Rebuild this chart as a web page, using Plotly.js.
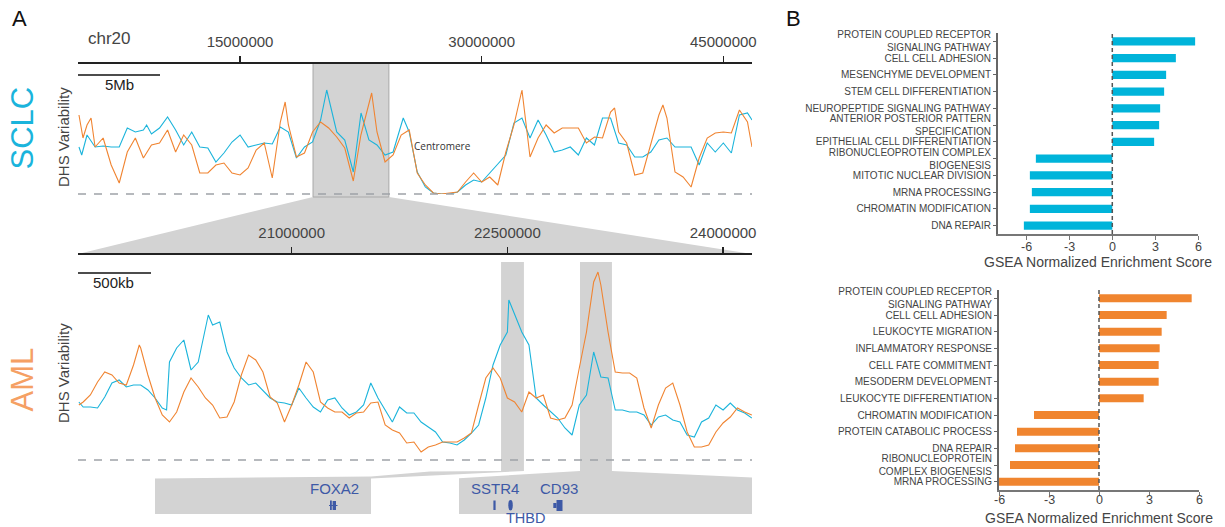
<!DOCTYPE html>
<html><head><meta charset="utf-8">
<script src="https://cdn.plot.ly/plotly-3.0.1.min.js"></script>
<style>html,body{margin:0;padding:0;background:#fff}#chart{width:1225px;height:527px}</style>
</head><body><div id="chart"></div>
<script>
// ---------------- DATA ----------------
// Whole chromosome track (positions in Mb on chr20, DHS variability in arbitrary units)
const sclcChrPos = [5,5.17,5.5,6,6.5,7,7.5,8,8.5,9,9.2,9.5,10,10.5,11,11.5,12,12.5,13,13.5,14,14.5,15,15.5,16,16.5,17,17.5,18,18.5,19,19.5,20,20.38,21,21.5,22.03,22.51,23,23.5,24,24.5,25.13,25.5,26,26.5,27,27.5,28,28.5,29,29.5,30,30.5,31,31.5,32,32.5,33,33.5,34,34.5,35,35.5,36,36.5,37,37.5,38,38.5,39,39.5,40,40.5,41,41.5,42,42.5,43,43.5,44,44.5,45,45.5,46,46.5,46.78];
const sclcChrVal = [47,39,59,47,48,47,47,66,62,64,69,60,66,77,64,49,62,47,46,32,41,52,59,47,49,51,50,67,62,36,47,52,74,104,62,54,22,81,54,49,39,42,76,62,22,7,1,0,0,2,9,14,12,21,29,39,71,76,56,74,59,42,44,47,39,56,49,76,76,51,49,37,37,42,54,56,47,47,47,29,51,42,51,41,79,81,74];
const amlChrPos = [5,5.25,5.5,5.75,6,6.5,7,7.5,8,8.5,9,9.5,10,10.5,11,11.5,12,12.5,13,13.5,14,14.5,15,15.5,16,16.5,17,17.5,17.8,18,18.5,19,19.5,20,20.5,21,21.5,22.03,22.5,23,23.17,23.5,24,24.5,25,25.5,26,26.5,27,27.5,28,28.5,29,29.5,30,30.5,31,31.5,32,32.5,33,33.5,34,34.5,35,35.5,36,36.5,37,37.5,38,38.25,38.5,39,39.5,40,40.5,41,41.25,41.5,42,42.5,43,43.5,44,44.5,45,45.5,46,46.5,46.78];
const amlChrVal = [79,56,69,76,47,56,29,11,42,56,36,49,51,64,42,59,49,21,21,29,31,21,19,26,44,51,16,72,92,69,37,41,62,72,66,57,46,13,59,89,101,62,32,39,59,64,21,9,1,0,1,2,12,21,12,17,9,42,69,104,37,56,69,61,66,66,66,51,57,56,82,86,62,51,19,21,51,79,89,76,22,17,7,36,56,61,62,61,84,72,47];

// Zoomed region track (positions in Mb)
const sclcZoomPos = [19.52,19.55,19.6,19.65,19.7,19.75,19.8,19.85,19.9,19.95,20.0,20.05,20.1,20.13,20.15,20.2,20.25,20.3,20.35,20.4,20.42,20.45,20.5,20.55,20.6,20.65,20.7,20.75,20.8,20.85,20.9,20.95,21.0,21.05,21.1,21.15,21.2,21.25,21.3,21.35,21.4,21.45,21.5,21.55,21.6,21.65,21.7,21.75,21.8,21.85,21.9,21.95,22.0,22.05,22.1,22.15,22.2,22.25,22.3,22.35,22.4,22.45,22.5,22.51,22.55,22.6,22.65,22.7,22.75,22.8,22.85,22.9,22.95,23.0,23.05,23.1,23.15,23.2,23.25,23.3,23.35,23.4,23.45,23.5,23.55,23.6,23.65,23.7,23.75,23.8,23.85,23.9,23.95,24.0,24.05,24.1,24.15,24.2];
const sclcZoomVal = [58,53,53,52,63,77,80,73,75,75,70,62,52,50,98,112,120,90,98,133,145,135,138,108,92,82,75,77,70,62,58,57,55,72,62,53,48,60,62,52,45,48,55,77,62,50,38,53,47,47,38,33,28,18,17,15,20,27,35,62,95,115,128,160,145,128,115,62,55,48,42,32,25,55,65,108,83,82,50,50,48,48,45,35,43,45,40,38,25,23,38,42,55,50,57,50,47,42];
const amlZoomPos = [19.52,19.55,19.6,19.65,19.7,19.75,19.8,19.85,19.9,19.94,19.95,20.0,20.05,20.1,20.15,20.2,20.25,20.3,20.35,20.4,20.45,20.5,20.55,20.6,20.65,20.7,20.75,20.8,20.85,20.9,20.95,21.0,21.05,21.1,21.15,21.2,21.25,21.3,21.35,21.4,21.45,21.5,21.55,21.6,21.65,21.7,21.75,21.8,21.85,21.9,21.95,22.0,22.05,22.1,22.15,22.2,22.25,22.3,22.35,22.4,22.45,22.5,22.55,22.6,22.65,22.7,22.75,22.8,22.85,22.9,22.95,23.0,23.05,23.1,23.13,23.15,23.2,23.25,23.3,23.35,23.4,23.45,23.5,23.55,23.6,23.65,23.7,23.75,23.8,23.85,23.9,23.95,24.0,24.05,24.1,24.15,24.2];
const amlZoomVal = [55,58,65,78,88,85,77,75,95,115,112,85,62,45,38,48,68,82,73,62,55,42,43,58,85,105,100,88,63,57,38,55,75,98,88,58,52,48,48,42,47,48,57,58,35,30,27,17,18,8,13,15,18,18,18,22,27,55,82,92,82,62,58,48,68,62,65,42,40,42,55,92,128,178,188,175,128,88,87,87,82,52,32,55,72,77,55,28,13,13,15,28,37,43,52,48,45];

// Genome axis ticks (Mb) and labels
const chrTickPos = [15,30,45];
const chrTickText = ["15000000","30000000","45000000"];
const zoomTickPos = [21,22.5,24];
const zoomTickText = ["21000000","22500000","24000000"];

// Highlighted regions (Mb)
const chrHighlight = [19.53,24.24];
const foxa2Region = [22.456,22.615];
const cd93Region = [23.005,23.227];

// GSEA bars
const sclcTerms = ["PROTEIN COUPLED RECEPTOR<br>SIGNALING PATHWAY","CELL CELL ADHESION","MESENCHYME DEVELOPMENT","STEM CELL DIFFERENTIATION","NEUROPEPTIDE SIGNALING PATHWAY","ANTERIOR POSTERIOR PATTERN<br>SPECIFICATION","EPITHELIAL CELL DIFFERENTIATION","RIBONUCLEOPROTEIN COMPLEX<br>BIOGENESIS","MITOTIC NUCLEAR DIVISION","MRNA PROCESSING","CHROMATIN MODIFICATION","DNA REPAIR"];
const sclcNES = [5.8,4.45,3.77,3.63,3.35,3.28,2.93,-5.35,-5.77,-5.63,-5.77,-6.19];
const amlTerms = ["PROTEIN COUPLED RECEPTOR<br>SIGNALING PATHWAY","CELL CELL ADHESION","LEUKOCYTE MIGRATION","INFLAMMATORY RESPONSE","CELL FATE COMMITMENT","MESODERM DEVELOPMENT","LEUKOCYTE DIFFERENTIATION","CHROMATIN MODIFICATION","PROTEIN CATABOLIC PROCESS","DNA REPAIR","RIBONUCLEOPROTEIN<br>COMPLEX BIOGENESIS","MRNA PROCESSING"];
const amlNES = [5.56,4.06,3.76,3.64,3.58,3.58,2.68,-3.9,-4.92,-5.04,-5.34,-6.0];
const nesTicks = [-6,-3,0,3,6];
const nesTickText = ["-6","-3","0","3","6"];

// ---------------- STYLE / LAYOUT ----------------
const W = 1225, H = 527;
const CYAN = '#1bb4db', ORANGE = '#f08431', GENE = '#3d59a6', GREY = '#d3d3d3';
const FONT = 'Liberation Sans, Arial, sans-serif';
const px = x => x / W, py = y => 1 - y / H;
function poly(pts){ return 'M ' + pts.map(p => px(p[0]).toFixed(5) + ',' + py(p[1]).toFixed(5)).join(' L ') + ' Z'; }

const traces = [
  {x: sclcChrPos, y: sclcChrVal, xaxis:'x', yaxis:'y', mode:'lines', line:{color:CYAN, width:1.1}, hoverinfo:'skip'},
  {x: amlChrPos, y: amlChrVal, xaxis:'x', yaxis:'y', mode:'lines', line:{color:ORANGE, width:1.1}, hoverinfo:'skip'},
  {x: sclcZoomPos, y: sclcZoomVal, xaxis:'x2', yaxis:'y2', mode:'lines', line:{color:CYAN, width:1.1}, hoverinfo:'skip'},
  {x: amlZoomPos, y: amlZoomVal, xaxis:'x2', yaxis:'y2', mode:'lines', line:{color:ORANGE, width:1.1}, hoverinfo:'skip'},
  {type:'bar', orientation:'h', x: sclcNES, y: sclcTerms, xaxis:'x3', yaxis:'y3', marker:{color:'#00b4da'}, hoverinfo:'skip'},
  {type:'bar', orientation:'h', x: amlNES, y: amlTerms, xaxis:'x4', yaxis:'y4', marker:{color:'#f0852f'}, hoverinfo:'skip'}
];

const genomeAxis = {
  anchor:'free', side:'top', showline:true, linecolor:'#222', linewidth:2,
  ticks:'outside', ticklen:6, tickwidth:1.2, tickcolor:'#222',
  tickfont:{size:15, color:'#444', family:FONT}, ticklabelstandoff:3,
  showgrid:false, zeroline:false, fixedrange:true
};
const nesX = {
  tickvals: nesTicks, showticklabels:false, showline:true, linecolor:'#777', linewidth:1.5,
  ticks:'outside', ticklen:4, tickcolor:'#777',
  showgrid:false, zeroline:false, fixedrange:true
};
const nesY = {
  type:'category', autorange:'reversed', showline:true, linecolor:'#666', linewidth:2,
  ticks:'outside', ticklen:3, tickcolor:'#666', tickfont:{size:10, color:'#444', family:FONT},
  showgrid:false, zeroline:false, fixedrange:true, automargin:false
};

const shapes = [
  {type:'path', xref:'paper', yref:'paper', path: poly([[313,197],[389,197],[752,254],[78,254]]), fillcolor:GREY, line:{width:0}, layer:'below'},
  {type:'rect', xref:'x', yref:'paper', x0:chrHighlight[0], x1:chrHighlight[1], y0:py(197), y1:py(63), fillcolor:GREY, line:{color:'#a9a9a9', width:1}, layer:'below'},
  {type:'rect', xref:'x2', yref:'paper', x0:foxa2Region[0], x1:foxa2Region[1], y0:py(471), y1:py(262), fillcolor:GREY, line:{width:0}, layer:'below'},
  {type:'rect', xref:'x2', yref:'paper', x0:cd93Region[0], x1:cd93Region[1], y0:py(471), y1:py(262), fillcolor:GREY, line:{width:0}, layer:'below'},
  {type:'path', xref:'paper', yref:'paper', path: poly([[155,478.5],[371,476.5],[430,471.5],[501,471],[524,471],[371,478.5],[371,514],[155,514]]), fillcolor:GREY, line:{width:0}, layer:'below'},
  {type:'path', xref:'paper', yref:'paper', path: poly([[459,478.3],[580,471],[612,471],[752,477.5],[752,514],[459,514]]), fillcolor:GREY, line:{width:0}, layer:'below'},
  {type:'line', xref:'paper', yref:'paper', x0:px(78), x1:px(752), y0:py(194), y1:py(194), line:{color:'#9ea3a8', width:1.6, dash:'8px,8px'}},
  {type:'line', xref:'paper', yref:'paper', x0:px(78), x1:px(752), y0:py(460), y1:py(460), line:{color:'#9ea3a8', width:1.6, dash:'8px,8px'}},
  {type:'line', xref:'paper', yref:'paper', x0:px(78), x1:px(160), y0:py(75), y1:py(75), line:{color:'#111', width:1.6}},
  {type:'line', xref:'paper', yref:'paper', x0:px(78), x1:px(151), y0:py(273), y1:py(273), line:{color:'#111', width:1.6}},
  {type:'rect', xref:'paper', yref:'paper', x0:px(330), x1:px(331.8), y0:py(510), y1:py(500.5), fillcolor:GENE, line:{width:0}},
  {type:'rect', xref:'paper', yref:'paper', x0:px(332.6), x1:px(336), y0:py(510), y1:py(501), fillcolor:GENE, line:{width:0}},
  {type:'line', xref:'paper', yref:'paper', x0:px(329), x1:px(337.5), y0:py(505.5), y1:py(505.5), line:{color:GENE, width:1}},
  {type:'rect', xref:'paper', yref:'paper', x0:px(493.4), x1:px(495.6), y0:py(510), y1:py(500.5), fillcolor:GENE, line:{width:0}},
  {type:'circle', xref:'paper', yref:'paper', x0:px(508.3), x1:px(512.8), y0:py(510.5), y1:py(500), fillcolor:GENE, line:{width:0}},
  {type:'rect', xref:'paper', yref:'paper', x0:px(553.3), x1:px(556.5), y0:py(508), y1:py(503), fillcolor:GENE, line:{width:0}},
  {type:'rect', xref:'paper', yref:'paper', x0:px(556.5), x1:px(562.5), y0:py(511), y1:py(500), fillcolor:GENE, line:{width:0}},
  {type:'line', xref:'x3', yref:'paper', x0:0, x1:0, y0:py(234), y1:py(33), line:{color:'#555', width:1.5, dash:'4px,3px'}},
  {type:'line', xref:'x4', yref:'paper', x0:0, x1:0, y0:py(490), y1:py(290), line:{color:'#555', width:1.5, dash:'4px,3px'}}
];

function ann(text, x, y, size, color, extra){
  return Object.assign({text:text, xref:'paper', yref:'paper', x:px(x), y:py(y), xanchor:'center', yanchor:'middle', showarrow:false, borderpad:0, font:{size:size, color:color, family:FONT}}, extra||{});
}
const annotations = [
  ann('A', 19, 18, 22, '#111'),
  ann('B', 793, 18, 22, '#111'),
  ann('chr20', 109, 38, 17, '#444'),
  ann('5Mb', 119, 85, 15, '#222'),
  ann('500kb', 113, 282, 15, '#222'),
  ann('SCLC', 21.5, 128, 31, '#1ab4dc', {textangle:-90}),
  ann('AML', 21.5, 380, 31, '#f5a064', {textangle:-90}),
  ann('DHS Variability', 63, 137, 15, '#444', {textangle:-90}),
  ann('DHS Variability', 63, 373, 15, '#444', {textangle:-90}),
  Object.assign(ann('Centromere', 442, 146, 10, '#333'), {font:{size:10, color:'#333', family:'Open Sans, sans-serif'}}),
  ann('FOXA2', 334, 488, 15, GENE),
  ann('SSTR4', 495, 488, 15, GENE),
  ann('CD93', 558.5, 488, 15, GENE),
  ann('THBD', 525, 518, 14.5, GENE),
  ann('GSEA Normalized Enrichment Score', 1098, 261.5, 14, '#444'),
  ann('GSEA Normalized Enrichment Score', 1099, 518, 14, '#444')
];
// NES tick labels drawn as annotations at the axis' own tick values
nesTicks.forEach((v, i) => {
  annotations.push({text:nesTickText[i], xref:'x3', yref:'paper', x:v, y:py(246.5), xanchor:'center', yanchor:'middle', showarrow:false, borderpad:0, font:{size:12.5, color:'#444', family:FONT}});
  annotations.push({text:nesTickText[i], xref:'x4', yref:'paper', x:v, y:py(500), xanchor:'center', yanchor:'middle', showarrow:false, borderpad:0, font:{size:12.5, color:'#444', family:FONT}});
});

const layout = {
  width:W, height:H, autosize:false, margin:{l:0,r:0,t:0,b:0,pad:0},
  paper_bgcolor:'#fff', plot_bgcolor:'rgba(0,0,0,0)', showlegend:false,
  font:{family:FONT, color:'#444'}, bargap:0.52,
  xaxis: Object.assign({}, genomeAxis, {domain:[px(78), px(752)], range:[4.94,46.78], position:py(63), tickvals:chrTickPos, ticktext:chrTickText}),
  yaxis: {domain:[py(194), py(84)], range:[0,110], visible:false, anchor:'x', fixedrange:true},
  xaxis2: Object.assign({}, genomeAxis, {domain:[px(78), px(752)], range:[19.514,24.201], position:py(254), tickvals:zoomTickPos, ticktext:zoomTickText}),
  yaxis2: {domain:[py(460), py(260)], range:[0,200], visible:false, anchor:'x2', fixedrange:true},
  xaxis3: Object.assign({}, nesX, {domain:[px(998), px(1198)], range:[-8,6], anchor:'y3'}),
  yaxis3: Object.assign({}, nesY, {domain:[py(234), py(33)], anchor:'x3'}),
  xaxis4: Object.assign({}, nesX, {domain:[px(999), px(1199)], range:[-6,6], anchor:'y4'}),
  yaxis4: Object.assign({}, nesY, {domain:[py(490), py(290)], anchor:'x4'}),
  shapes: shapes, annotations: annotations
};

Plotly.newPlot('chart', traces, layout, {staticPlot:true, displayModeBar:false});
</script>
</body></html>
